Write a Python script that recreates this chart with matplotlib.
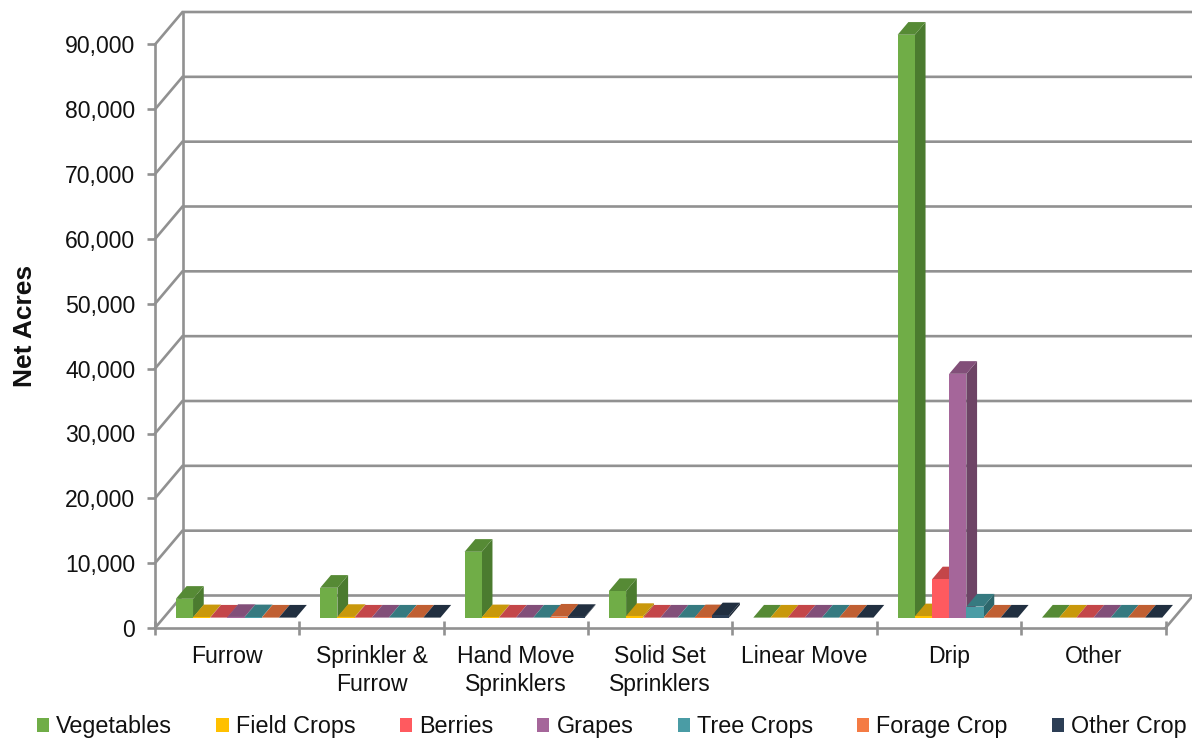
import matplotlib
matplotlib.use('Agg')
import matplotlib.pyplot as plt
from matplotlib.patches import Patch, Polygon

plt.rc('font', family='Liberation Sans', size=16.6)

methods = ['Furrow', 'Sprinkler &\nFurrow', 'Hand Move\nSprinklers', 'Solid Set\nSprinklers',
           'Linear Move', 'Drip', 'Other']
crops = ['Vegetables', 'Field Crops', 'Berries', 'Grapes', 'Tree Crops', 'Forage Crop', 'Other Crop']

vegetables = [2900, 4600, 10150, 4100, 0, 89900, 0]
field_crops = [50, 100, 50, 250, 0, 200, 0]
berries = [0, 0, 0, 0, 0, 5900, 0]
grapes = [100, 0, 0, 0, 0, 37600, 0]
tree_crops = [50, 0, 0, 0, 0, 1700, 0]
forage_crop = [0, 0, 150, 50, 0, 0, 0]
other_crop = [0, 0, 100, 350, 0, 0, 0]
series = [vegetables, field_crops, berries, grapes, tree_crops, forage_crop, other_crop]

# front, top, side colour of each crop
front = ['#70AD47', '#FFC000', '#FF5A5F', '#A5669A', '#4A9CA5', '#F47B44', '#2C3E55']
top = ['#568A35', '#C9980B', '#C44649', '#824F79', '#367A80', '#C05F32', '#212F40']
side = ['#4B7B2F', '#A67F0A', '#A33B3E', '#6D4465', '#2D666B', '#9F4F2A', '#1B2735']

gridcol = '#919191'
gridlw = 1.9
yticks = list(range(0, 100000, 10000))

fig = plt.figure(figsize=(11.92, 7.38), dpi=100)
ax = fig.add_axes([155/1192, 1 - 628/738, (1165.5 - 155)/1192, (628 - 44.5)/738])
ax.set_xlim(0, 7)
ax.set_ylim(0, 90000)

# how far the back wall sits from the front plane, in data units
depth_x = 27.5/(1010.5/7)
depth_y = 32.5/(583.5/90000)


def proj(x, v, d):
    return (x + d*depth_x, v + d*depth_y)


# walls and gridlines
for v in yticks:
    ax.plot(*zip(proj(0, v, 0), proj(0, v, 1), proj(7, v, 1)), color=gridcol, lw=gridlw,
            clip_on=False, zorder=1, solid_joinstyle='miter')
ax.plot(*zip(proj(0, 0, 1), proj(0, 90000, 1)), color=gridcol, lw=gridlw, clip_on=False, zorder=1)
ax.plot(*zip(proj(7, 0, 0), proj(7, 0, 1)), color=gridcol, lw=gridlw, clip_on=False, zorder=1)

# bars, left to right so the next front face hides the previous side
d0, d1 = 0.32, 0.71
gap = 0.0835
bw = (1 - 2*gap)/len(crops)
for m in range(len(methods)):
    for c, vals in enumerate(series):
        x0 = m + gap + c*bw
        x1 = x0 + bw
        v = vals[m]
        ax.add_patch(Polygon([proj(x1, 0, d0), proj(x1, 0, d1), proj(x1, v, d1), proj(x1, v, d0)],
                             fc=side[c], ec='none', clip_on=False, zorder=3))
        ax.add_patch(Polygon([proj(x0, v, d0), proj(x1, v, d0), proj(x1, v, d1), proj(x0, v, d1)],
                             fc=top[c], ec='none', clip_on=False, zorder=3))
        ax.add_patch(Polygon([proj(x0, 0, d0), proj(x1, 0, d0), proj(x1, v, d0), proj(x0, v, d0)],
                             fc=front[c], ec='none', clip_on=False, zorder=3))

ax.spines['top'].set_visible(False)
ax.spines['right'].set_visible(False)
for s in ['left', 'bottom']:
    ax.spines[s].set_color(gridcol)
    ax.spines[s].set_linewidth(gridlw)

ax.set_yticks(yticks, labels=[f'{v:,}' for v in yticks])
ax.tick_params(axis='y', length=5.8, width=gridlw, color=gridcol, pad=8.5, labelcolor='#111111')
ax.set_xticks(range(8), labels=[''] * 8)
ax.tick_params(axis='x', which='major', direction='inout', length=9.5, width=gridlw, color=gridcol)
ax.set_xticks([m + 0.5 for m in range(7)], labels=methods, minor=True)
ax.tick_params(axis='x', which='minor', length=0, pad=12, labelcolor='#111111')
for t in ax.get_xticklabels(minor=True):
    t.set_linespacing(1.3)

fig.text(25/1192, 1 - 326/738, 'Net Acres', rotation=90, fontsize=19, fontweight='bold',
         ha='center', va='center', color='#111111')

handles = [Patch(fc=col, ec='none') for col in front]
fig.legend(handles, crops, ncol=7, loc='lower left', bbox_to_anchor=(37/1192, 0),
           bbox_transform=fig.transFigure, frameon=False, borderpad=0, borderaxespad=0,
           handlelength=0.52, handleheight=0.52, handletextpad=0.3, columnspacing=1.9,
           fontsize=16.8, labelcolor='#111111')

fig.savefig('out.png', dpi=100)
